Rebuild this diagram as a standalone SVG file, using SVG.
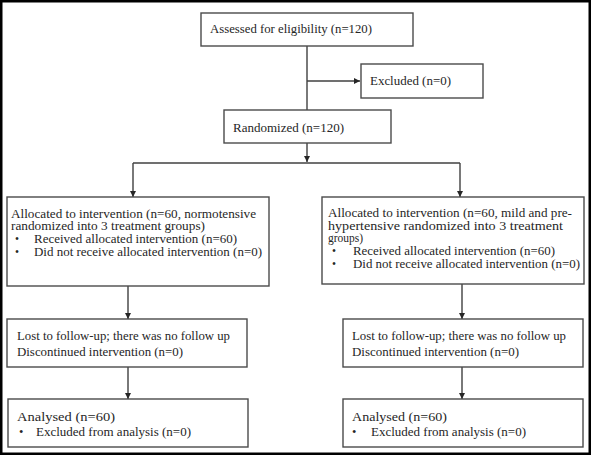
<svg xmlns="http://www.w3.org/2000/svg" width="592" height="456" viewBox="0 0 592 456">
<style>
.box{fill:#fff;stroke:#4a4a4a;stroke-width:1.4}
.t{font-family:"Liberation Serif","Times New Roman",serif;font-size:12.5px;fill:#262626}
.s{font-size:11.5px}
.c{fill:none;stroke:#404040;stroke-width:1.4}
</style>
<defs>
<marker id="ah" viewBox="0 0 10 10" refX="10" refY="5" markerWidth="6" markerHeight="6" markerUnits="userSpaceOnUse" orient="auto">
<path d="M0,0 L10,5 L0,10 z" fill="#262626"/>
</marker>
</defs>
<rect x="0" y="0" width="592" height="456" fill="#fff"/>
<rect x="1.25" y="1.25" width="588.5" height="452.5" fill="none" stroke="#000" stroke-width="2.5"/>

<g id="connectors">
<path class="c" d="M307,46 V110"/>
<path class="c" d="M307,81 H360" marker-end="url(#ah)"/>
<path class="c" d="M307,143 V162" marker-end="url(#ah)"/>
<path class="c" d="M133,163 H460"/>
<path class="c" d="M133,163 V197" marker-end="url(#ah)"/>
<path class="c" d="M460,163 V197" marker-end="url(#ah)"/>
<path class="c" d="M128,286 V319" marker-end="url(#ah)"/>
<path class="c" d="M128,367 V399" marker-end="url(#ah)"/>
<path class="c" d="M462,284 V319" marker-end="url(#ah)"/>
<path class="c" d="M462,367 V399" marker-end="url(#ah)"/>
</g>

<g id="assessed">
<rect class="box" x="201" y="13" width="212" height="33"/>
<text class="t" x="210" y="32.5" textLength="162" lengthAdjust="spacingAndGlyphs">Assessed for eligibility  (n=120)</text>
</g>
<g id="excluded">
<rect class="box" x="361" y="64" width="122" height="34"/>
<text class="t" x="370" y="85" textLength="81" lengthAdjust="spacingAndGlyphs">Excluded (n=0)</text>
</g>
<g id="randomized">
<rect class="box" x="224" y="110" width="167" height="33"/>
<text class="t" x="233" y="131.5" textLength="111" lengthAdjust="spacingAndGlyphs">Randomized (n=120)</text>
</g>

<g id="alloc-left">
<rect class="box" x="7" y="197" width="262" height="89"/>
<text class="t s" x="11" y="217.5" textLength="245" lengthAdjust="spacingAndGlyphs">Allocated to intervention (n=60, normotensive</text>
<text class="t s" x="11" y="230.2" textLength="194" lengthAdjust="spacingAndGlyphs">randomized into 3 treatment groups)</text>
<text class="t s" x="15" y="242.9">•</text>
<text class="t s" x="34" y="242.9" textLength="203" lengthAdjust="spacingAndGlyphs">Received allocated intervention (n=60)</text>
<text class="t s" x="15" y="255.6">•</text>
<text class="t s" x="34" y="255.6" textLength="228" lengthAdjust="spacingAndGlyphs">Did not receive allocated intervention (n=0)</text>
</g>

<g id="alloc-right">
<rect class="box" x="322" y="197" width="262" height="87"/>
<text class="t s" x="328" y="217" textLength="244" lengthAdjust="spacingAndGlyphs">Allocated to intervention (n=60, mild and pre-</text>
<text class="t s" x="328" y="229.7" textLength="235" lengthAdjust="spacingAndGlyphs">hypertensive randomized into 3 treatment</text>
<text class="t s" x="328" y="242.4">groups)</text>
<text class="t s" x="332" y="255.1">•</text>
<text class="t s" x="353" y="255.1" textLength="202" lengthAdjust="spacingAndGlyphs">Received allocated intervention (n=60)</text>
<text class="t s" x="332" y="267.8">•</text>
<text class="t s" x="353" y="267.8" textLength="227" lengthAdjust="spacingAndGlyphs">Did not receive allocated intervention (n=0)</text>
</g>

<g id="followup-left">
<rect class="box" x="7" y="319" width="240" height="48"/>
<text class="t" x="17" y="340" textLength="213" lengthAdjust="spacingAndGlyphs">Lost to follow-up; there was no follow up</text>
<text class="t" x="17" y="356" textLength="166" lengthAdjust="spacingAndGlyphs">Discontinued intervention (n=0)</text>
</g>
<g id="followup-right">
<rect class="box" x="343" y="319" width="240" height="48"/>
<text class="t" x="352" y="340" textLength="214" lengthAdjust="spacingAndGlyphs">Lost to follow-up; there was no follow up</text>
<text class="t" x="352" y="356" textLength="167" lengthAdjust="spacingAndGlyphs">Discontinued intervention (n=0)</text>
</g>

<g id="analysed-left">
<rect class="box" x="8" y="399" width="240" height="48"/>
<text class="t" x="17" y="421" textLength="98" lengthAdjust="spacingAndGlyphs">Analysed (n=60)</text>
<text class="t" x="19" y="435.5">•</text>
<text class="t" x="36" y="435.5" textLength="155" lengthAdjust="spacingAndGlyphs">Excluded from analysis (n=0)</text>
</g>
<g id="analysed-right">
<rect class="box" x="343" y="399" width="240" height="48"/>
<text class="t" x="352" y="421" textLength="95" lengthAdjust="spacingAndGlyphs">Analysed (n=60)</text>
<text class="t" x="352" y="435.5">•</text>
<text class="t" x="371" y="435.5" textLength="155" lengthAdjust="spacingAndGlyphs">Excluded from analysis (n=0)</text>
</g>
</svg>
